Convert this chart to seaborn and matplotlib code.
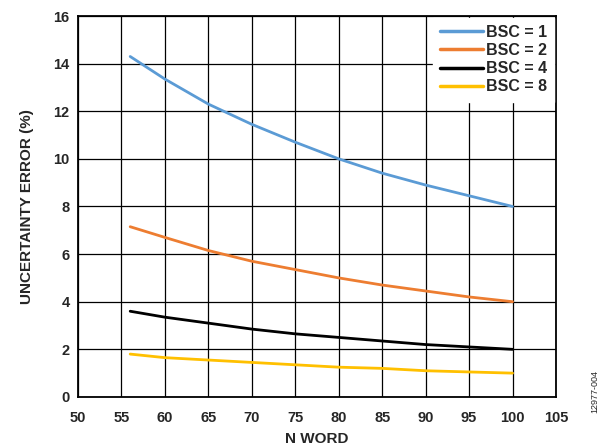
import matplotlib
matplotlib.use("Agg")
import matplotlib.pyplot as plt
import seaborn as sns
import pandas as pd

n_word = [56, 60, 65, 70, 75, 80, 85, 90, 95, 100]
bsc1 = [14.3, 13.35, 12.3, 11.45, 10.7, 10.0, 9.4, 8.9, 8.45, 8.0]
bsc2 = [7.15, 6.7, 6.15, 5.7, 5.35, 5.0, 4.7, 4.45, 4.2, 4.0]
bsc4 = [3.6, 3.35, 3.1, 2.85, 2.65, 2.5, 2.35, 2.2, 2.1, 2.0]
bsc8 = [1.8, 1.65, 1.55, 1.45, 1.35, 1.25, 1.2, 1.1, 1.05, 1.0]
series_names = ["BSC = 1", "BSC = 2", "BSC = 4", "BSC = 8"]
colors = ["#5B9BD5", "#ED7D31", "#000000", "#FFC000"]
x_ticks = [50, 55, 60, 65, 70, 75, 80, 85, 90, 95, 100, 105]
y_ticks = [0, 2, 4, 6, 8, 10, 12, 14, 16]

rows = []
for name, vals in zip(series_names, [bsc1, bsc2, bsc4, bsc8]):
    for x, y in zip(n_word, vals):
        rows.append({"N WORD": x, "err": y, "series": name})
df = pd.DataFrame(rows)

sns.set_style("white")
plt.rcParams["font.family"] = ["Liberation Sans", "DejaVu Sans"]
plt.rcParams["font.weight"] = "bold"

fig = plt.figure(figsize=(6.05, 4.45), dpi=100)
ax = fig.add_axes([0.129, 0.108, 0.790, 0.856])

sns.lineplot(data=df, x="N WORD", y="err", hue="series", hue_order=series_names,
             palette=colors, linewidth=2.0, ax=ax, zorder=3)

ax.set_xlim(50, 105)
ax.set_ylim(0, 16)
ax.set_xticks(x_ticks)
ax.set_yticks(y_ticks)
ax.grid(True, color="black", linewidth=0.9, zorder=0)
ax.set_axisbelow(True)
for s in ax.spines.values():
    s.set_color("black")
    s.set_linewidth(1.3)
ax.tick_params(axis="both", length=0, labelsize=10.5)
ax.tick_params(axis="x", pad=10)
ax.tick_params(axis="y", pad=6)
for lbl in ax.get_xticklabels() + ax.get_yticklabels():
    lbl.set_fontweight("bold")
ax.set_xlabel("N WORD", fontsize=11, fontweight="bold", labelpad=5)
ax.set_ylabel("UNCERTAINTY ERROR (%)", fontsize=11, fontweight="bold", labelpad=14)

leg = ax.legend(loc="upper right", frameon=True, fancybox=False, framealpha=1,
                edgecolor="white", fontsize=11.5, handlelength=2.7,
                handletextpad=0.2, labelspacing=0.2, borderpad=0.45,
                borderaxespad=0.1)
for t in leg.get_texts():
    t.set_fontweight("bold")
for l in leg.get_lines():
    l.set_linewidth(2.5)

fig.text(0.983, 0.12, "12977-004", rotation=90, fontsize=6.5, fontweight="normal",
         ha="center", va="center")

fig.savefig("out.png", dpi=100)
